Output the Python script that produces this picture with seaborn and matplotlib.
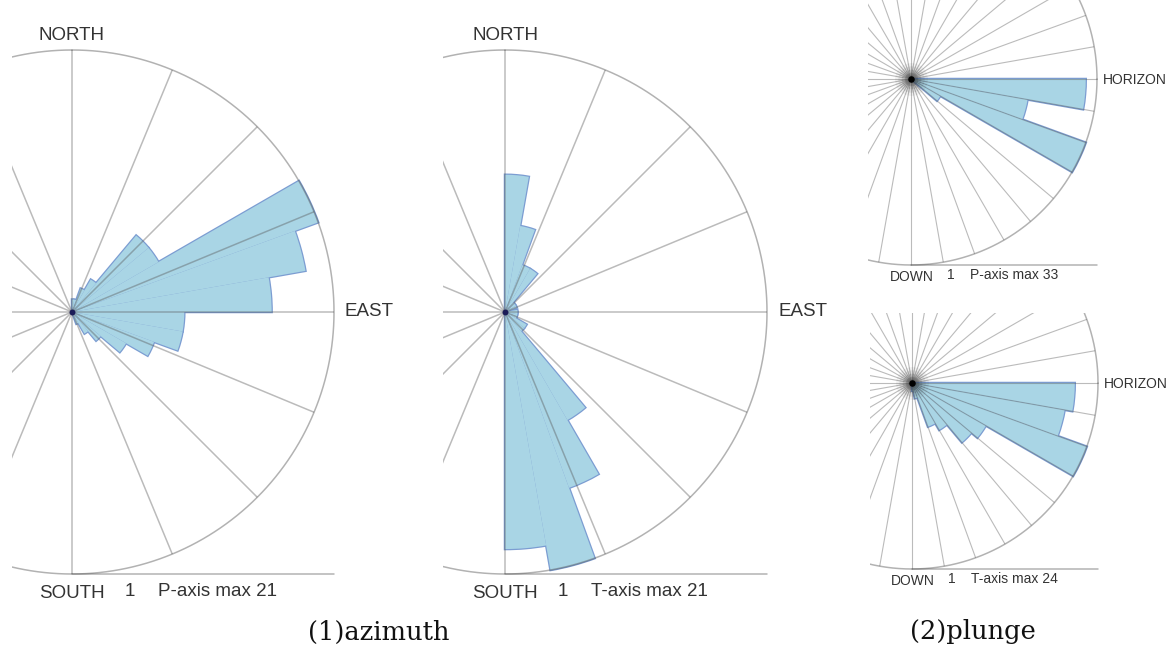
import numpy as np
import pandas as pd
import matplotlib
matplotlib.use("Agg")
import matplotlib.pyplot as plt
from matplotlib.patches import Rectangle
import seaborn as sns

# ---- data ---------------------------------------------------------------
# azimuth histograms: 10-degree bins, clockwise from north
azimuth_edges = np.arange(0, 190, 10)
p_azimuth_counts = [1, 1, 2, 3, 8, 8, 21, 19, 16, 9, 9, 7, 5, 3, 2, 1, 0, 0]
t_azimuth_counts = [11, 7, 4, 4, 1, 1, 1, 0, 1, 1, 1, 1, 2, 2, 10, 15, 21, 19]
p_azimuth_max = 21
t_azimuth_max = 21

# plunge histograms: 10-degree bins, measured down from the horizon
plunge_edges = np.arange(0, 100, 10)
p_plunge_counts = [31, 21, 33, 6, 0, 0, 0, 0, 0]
t_plunge_counts = [21, 20, 24, 11, 10, 7, 6, 2, 1]
p_plunge_max = 33
t_plunge_max = 24

azimuth_spokes = np.arange(0, 360, 22.5)
plunge_spokes = np.arange(0, 360, 10)

# ---- style --------------------------------------------------------------
sns.set_style("white")
plt.rcParams["font.family"] = ["Liberation Sans", "DejaVu Sans"]

FILL = "#a9d5e5"
EDGE = "#7c9dd2"
SPOKE = "#555555"
TEXT = "#333333"

W, H = 1173, 655
fig = plt.figure(figsize=(W / 100, H / 100), dpi=100)


def fx(x):
    return x / W


def fy(y):
    return 1 - y / H


def rose(cx, cy, radius, clip, zero, edges, counts, rmax, spokes, spoke_lw, plunge):
    ax = fig.add_axes([fx(cx - radius), fy(cy + radius), 2 * radius / W, 2 * radius / H],
                      projection="polar")
    ax.set_theta_zero_location(zero)
    ax.set_theta_direction(-1)

    edges = np.asarray(edges, dtype=float)
    df = pd.DataFrame({
        "theta": np.deg2rad((edges[:-1] + edges[1:]) / 2),
        "count": np.asarray(counts, dtype=float),
    })
    bins = list(np.deg2rad(edges))

    # outlined layer first, then a plain fill on top so only the outer rim shows
    sns.histplot(data=df, x="theta", weights="count", bins=bins, ax=ax, element="bars",
                 color=FILL, edgecolor=EDGE, linewidth=1.8, alpha=1)
    sns.histplot(data=df, x="theta", weights="count", bins=bins, ax=ax, element="bars",
                 color=FILL, edgecolor=FILL, linewidth=0, alpha=1)

    for a in spokes:
        ax.plot([np.deg2rad(a)] * 2, [0, rmax], color=SPOKE, alpha=0.4, lw=spoke_lw,
                solid_capstyle="butt")
    ring = np.linspace(0, 2 * np.pi, 721)
    ax.plot(ring, np.full_like(ring, rmax), color=SPOKE, alpha=0.45, lw=1.1)
    # baseline under the rose, from the bottom of the ring to the right
    ax.plot([0.5, 1.0], [0.0, 0.0], transform=ax.transAxes, color=SPOKE, alpha=0.45, lw=1.1)

    if plunge:
        for s, al in zip([560, 360, 200, 95], [0.05, 0.07, 0.1, 0.14]):
            ax.scatter([0], [0], s=s, color="black", alpha=al, linewidths=0, zorder=6)
        ax.scatter([0], [0], s=22, color="black", linewidths=0, zorder=7)
    else:
        ax.scatter([0], [0], s=18, color="#1c1c58", linewidths=0, zorder=7)

    ax.set_ylim(0, rmax)
    ax.axis("off")

    x0, y0, x1, y1 = clip
    box = Rectangle((fx(x0), fy(y1)), (x1 - x0) / W, (y1 - y0) / H,
                    transform=fig.transFigure, facecolor="none", edgecolor="none")
    for art in ax.lines + ax.patches + ax.collections:
        art.set_clip_path(box)
    return ax


# (1) azimuth roses
rose(72, 312, 262, (12, 0, 420, 655), "N", azimuth_edges, p_azimuth_counts,
     p_azimuth_max, azimuth_spokes, 1.1, False)
rose(505, 312, 262, (443, 0, 860, 655), "N", azimuth_edges, t_azimuth_counts,
     t_azimuth_max, azimuth_spokes, 1.1, False)

# (2) plunge roses
rose(911, 79, 186, (868, 0, 1173, 300), "E", plunge_edges, p_plunge_counts,
     p_plunge_max, plunge_spokes, 0.8, True)
rose(912, 383, 186, (870, 313, 1173, 655), "E", plunge_edges, t_plunge_counts,
     t_plunge_max, plunge_spokes, 0.8, True)

# ---- labels -------------------------------------------------------------
big = dict(fontsize=13.5, color=TEXT)
small = dict(fontsize=10, color=TEXT)

for cx, name, mx in [(72, "P-axis", p_azimuth_max), (505, "T-axis", t_azimuth_max)]:
    fig.text(fx(cx), fy(36), "NORTH", ha="center", va="center", **big)
    fig.text(fx(cx + 273), fy(312), "EAST", ha="left", va="center", **big)
    fig.text(fx(cx), fy(594), "SOUTH", ha="center", va="center", **big)
    fig.text(fx(cx + 58), fy(591), "1", ha="center", va="center", **big)
    fig.text(fx(cx + 86), fy(591), f"{name} max {mx}", ha="left", va="center", **big)

for cx, cy, name, mx in [(911, 79, "P-axis", p_plunge_max), (912, 383, "T-axis", t_plunge_max)]:
    fig.text(fx(cx + 192), fy(cy + 1), "HORIZON", ha="left", va="center", **small)
    fig.text(fx(cx + 1), fy(cy + 198), "DOWN", ha="center", va="center", **small)
    fig.text(fx(cx + 40), fy(cy + 196), "1", ha="center", va="center", **small)
    fig.text(fx(cx + 59), fy(cy + 196), f"{name} max {mx}", ha="left", va="center", **small)

serif = dict(fontsize=18.5, color="#111111", family=["DejaVu Serif"])
fig.text(fx(379), fy(632), "(1)azimuth", ha="center", va="center", **serif)
fig.text(fx(973), fy(632), "(2)plunge", ha="center", va="center", **serif)

fig.savefig("out.png", dpi=100)
